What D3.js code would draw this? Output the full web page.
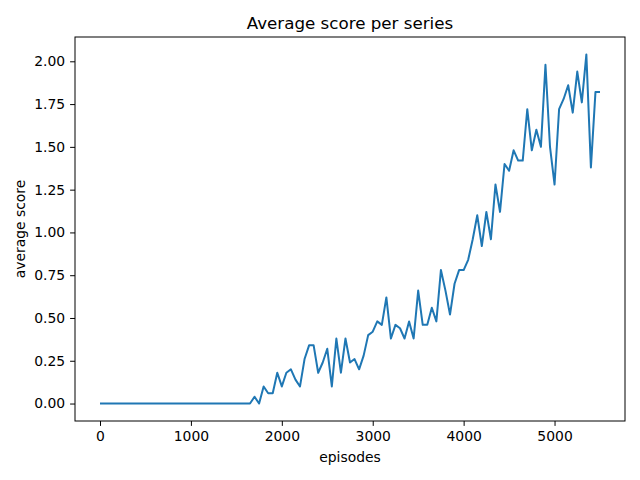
<!DOCTYPE html>
<html><head><meta charset="utf-8">
<script src="https://cdn.jsdelivr.net/npm/d3@7"></script>
<style>body{margin:0}text{font-family:"DejaVu Sans";}</style>
</head><body>
<svg width="640" height="480"></svg>
<script>
// scores every 50 episodes; zero until 1650
var zeros = d3.range(0, 1650, 50).map(function() { return 0; });
var tail = [0, 0.04, 0, 0.10, 0.06, 0.06, 0.18, 0.10, 0.18, 0.20, 0.14, 0.10, 0.26, 0.34, 0.34, 0.18, 0.24, 0.32, 0.10, 0.38,
  0.18, 0.38, 0.24, 0.26, 0.20, 0.28, 0.40, 0.42, 0.48, 0.46, 0.62, 0.38, 0.46, 0.44, 0.38, 0.48, 0.38, 0.66, 0.46, 0.46,
  0.56, 0.48, 0.78, 0.66, 0.52, 0.70, 0.78, 0.78, 0.84, 0.96, 1.10, 0.92, 1.12, 0.96, 1.28, 1.12, 1.40, 1.36, 1.48, 1.42,
  1.42, 1.72, 1.48, 1.60, 1.50, 1.98, 1.50, 1.28, 1.72, 1.78, 1.86, 1.70, 1.94, 1.76, 2.04, 1.38, 1.82, 1.82];
var scores = zeros.concat(tail);
var episodes = scores.map(function(d, i) { return i * 50; });
var xTicks = [0, 1000, 2000, 3000, 4000, 5000];
var yTicks = [0, 0.25, 0.5, 0.75, 1.0, 1.25, 1.5, 1.75, 2.0];

var svg = d3.select("svg"),
    margin = {top: 37, right: 15, bottom: 59, left: 75},
    width = 640 - margin.left - margin.right,
    height = 480 - margin.top - margin.bottom,
    g = svg.append("g").attr("transform", "translate(" + margin.left + "," + margin.top + ")");

var xmax = d3.max(episodes), ymax = d3.max(scores);
var x = d3.scaleLinear().domain([-0.05 * xmax, 1.05 * xmax]).range([0, width]);
var y = d3.scaleLinear().domain([-0.05 * ymax, 1.05 * ymax]).range([height, 0]);

g.append("g").attr("transform", "translate(0," + height + ")")
  .call(d3.axisBottom(x).tickValues(xTicks).tickSize(4.9).tickPadding(4.9).tickFormat(d3.format("d")))
  .call(function(a) { a.select(".domain").remove(); a.selectAll("text").attr("font-size", 13.9).attr("font-family", "DejaVu Sans").attr("fill", "#000"); });
g.append("g")
  .call(d3.axisLeft(y).tickValues(yTicks).tickSize(4.9).tickPadding(4.9).tickFormat(d3.format(".2f")))
  .call(function(a) { a.select(".domain").remove(); a.selectAll("text").attr("font-size", 13.9).attr("font-family", "DejaVu Sans").attr("fill", "#000"); });

g.append("path").datum(scores)
  .attr("fill", "none").attr("stroke", "#1f77b4").attr("stroke-width", 2).attr("stroke-linejoin", "round")
  .attr("d", d3.line().x(function(d, i) { return x(episodes[i]); }).y(function(d) { return y(d); }));

g.append("rect").attr("width", width).attr("height", height)
  .attr("fill", "none").attr("stroke", "#000").attr("stroke-width", 1);

svg.append("text").attr("x", margin.left + width / 2).attr("y", 29).attr("text-anchor", "middle")
  .attr("font-size", 16.7).text("Average score per series");
svg.append("text").attr("x", margin.left + width / 2).attr("y", 462).attr("text-anchor", "middle")
  .attr("font-size", 13.9).text("episodes");
svg.append("text").attr("transform", "translate(25," + (margin.top + height / 2) + ") rotate(-90)")
  .attr("text-anchor", "middle").attr("font-size", 13.9).text("average score");
</script>
</body></html>
